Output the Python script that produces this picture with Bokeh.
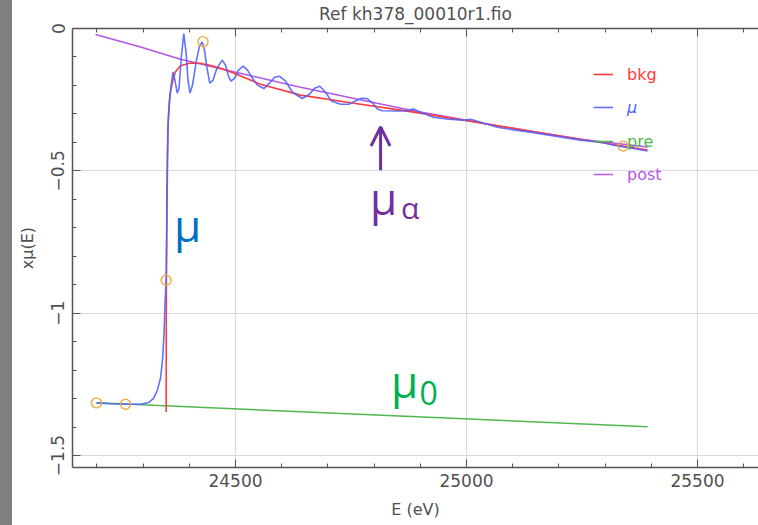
from bokeh.plotting import figure
from bokeh.embed import file_html
from bokeh.resources import INLINE
from bokeh.models import (Range1d, FixedTicker, LinearAxis, Legend, LegendItem,
                          CustomJSTickFormatter, Arrow, OpenHead, Div, CustomLabelingPolicy)
from bokeh.layouts import row
from bokeh.core.properties import value

# ---------------- data ----------------
mu_E = [24199, 24229, 24262, 24294, 24312, 24322.5, 24331, 24337.7, 24342, 24345.2,
        24347.4, 24350, 24351.7, 24352.8, 24354.5, 24357, 24360.8, 24364.7, 24369, 24373.8,
        24377.7, 24383.1, 24388.1, 24392.9, 24397.2, 24401.5, 24406.9, 24415.6, 24422.1, 24427.9,
        24432.9, 24438.3, 24444.4, 24451.3, 24460, 24471.2, 24478.4, 24484.8, 24490.3, 24497.8,
        24506.5, 24516.7, 24526, 24536.8, 24547.6, 24561.3, 24573.6, 24584.4, 24595.9, 24608.2,
        24623.4, 24644.4, 24660.2, 24671, 24682.5, 24694.8, 24707.8, 24727.3, 24745.2, 24759.7,
        24772.7, 24785.1, 24796.5, 24807.4, 24817.5, 24850, 24868, 24885.3, 24900.4, 24928.6,
        24961, 24993.5, 25008.7, 25030.3, 25067.1, 25106, 25138.5, 25192.6, 25246.7, 25290,
        25318.2, 25355, 25391.8]
mu_val = [-1.315, -1.318, -1.320, -1.320, -1.314, -1.299, -1.270, -1.228, -1.165, -1.077,
          -0.971, -0.884, -0.673, -0.463, -0.322, -0.252, -0.199, -0.153, -0.182, -0.227,
          -0.210, -0.094, -0.018, -0.083, -0.182, -0.227, -0.199, -0.111, -0.062, -0.047,
          -0.076, -0.139, -0.192, -0.182, -0.139, -0.111, -0.129, -0.168, -0.185, -0.175,
          -0.146, -0.132, -0.146, -0.175, -0.199, -0.211, -0.192, -0.171, -0.168, -0.185,
          -0.224, -0.246, -0.231, -0.210, -0.203, -0.224, -0.255, -0.266, -0.266, -0.255,
          -0.245, -0.246, -0.262, -0.283, -0.289, -0.290, -0.289, -0.283, -0.294, -0.312,
          -0.319, -0.322, -0.319, -0.329, -0.347, -0.357, -0.364, -0.378, -0.392, -0.399,
          -0.410, -0.420, -0.430]

bkg_E = [24350, 24350.2, 24351.3, 24353.5, 24356.1, 24359.3, 24364.7, 24370.1, 24380.9, 24402.6,
         24424.2, 24445.9, 24467.5, 24495.7, 24554.1, 24640.7, 24748.9, 24878.8, 24993.5, 25138.5,
         25246.7, 25391.8]
bkg_val = [-1.347, -0.954, -0.603, -0.357, -0.275, -0.222, -0.180, -0.152, -0.131, -0.121,
           -0.122, -0.130, -0.140, -0.156, -0.196, -0.234, -0.261, -0.292, -0.322, -0.361,
           -0.389, -0.427]

pre_E = [24199, 25391.8]
pre_val = [-1.315, -1.399]

post_E = [24197, 24294.4, 24381, 24495.7, 24640.7, 24878.8, 25073.6, 25246.7, 25391.8]
post_val = [-0.021, -0.065, -0.108, -0.152, -0.206, -0.287, -0.343, -0.389, -0.416]

marker_E = [24199, 24262, 24350, 24429.7, 25339]
marker_val = [-1.315, -1.320, -0.884, -0.046, -0.413]

x_major = [24500, 25000, 25500]
x_minor = [24200, 24300, 24400, 24600, 24700, 24800, 24900, 25100, 25200, 25300, 25400, 25600]
y_major = [-1.5, -1.0, -0.5, 0.0]
y_minor = [-1.4, -1.3, -1.2, -1.1, -0.9, -0.8, -0.7, -0.6, -0.4, -0.3, -0.2, -0.1]

TITLE = "Ref kh378_00010r1.fio"
XLABEL = "E (eV)"
YLABEL = "xμ(E)"

# ---------------- styling ----------------
BLUE = "#5262ff"
RED = "#ff3b3b"
GREEN = "#4fb84f"
VIOLET = "#b257e6"
ORANGE = "#f2a93b"
AXCOL = "#555555"
TXTCOL = "#505050"
FONT = "DejaVu Sans"

p = figure(width=746, height=525, output_backend="svg", toolbar_location=None,
           x_range=Range1d(24147.2, 25632), y_range=Range1d(-1.542, 0.0),
           min_border_left=60, min_border_right=0, min_border_top=28, min_border_bottom=58,
           x_axis_label=XLABEL, y_axis_label=YLABEL)
p.outline_line_color = None
p.background_fill_color = "white"
p.border_fill_color = "white"

p.title.text = TITLE
p.title.align = "center"
p.title.text_font = FONT
p.title.text_font_size = "17px"
p.title.text_font_style = "normal"
p.title.text_color = TXTCOL
p.title.standoff = 2

xt = FixedTicker(ticks=x_major, minor_ticks=x_minor)
yt = FixedTicker(ticks=y_major, minor_ticks=y_minor)

xaxis = p.xaxis[0]
yaxis = p.yaxis[0]
xaxis.ticker = xt
yaxis.ticker = yt
xaxis.formatter = CustomJSTickFormatter(code="return tick.toFixed(0);")
yaxis.formatter = CustomJSTickFormatter(
    code="if (Math.abs(tick) < 1e-9) {return '0';} return '\u2212' + String(Math.abs(tick));")
yaxis.major_label_orientation = "vertical"

for ax in (xaxis, yaxis):
    ax.axis_line_color = AXCOL
    ax.axis_line_width = 1.5
    ax.major_tick_line_color = AXCOL
    ax.minor_tick_line_color = AXCOL
    ax.major_tick_in = 8
    ax.major_tick_out = 0
    ax.minor_tick_in = 4
    ax.minor_tick_out = 0
    ax.major_label_text_font = FONT
    ax.major_label_text_font_size = "17px"
    ax.major_label_text_color = TXTCOL
    ax.axis_label_text_font = FONT
    ax.axis_label_text_font_size = "16px"
    ax.axis_label_text_font_style = "normal"
    ax.axis_label_text_color = TXTCOL
xaxis.major_label_standoff = 6
xaxis.axis_label_standoff = 10
yaxis.major_label_standoff = 8
yaxis.axis_label_standoff = 12

top = LinearAxis(ticker=FixedTicker(ticks=x_major, minor_ticks=x_minor))
top.axis_line_color = AXCOL
top.axis_line_width = 1.5
top.major_tick_line_color = AXCOL
top.minor_tick_line_color = AXCOL
top.major_tick_in = 8
top.major_tick_out = 0
top.minor_tick_in = 4
top.minor_tick_out = 0
top.major_label_text_font_size = "1px"
top.major_label_standoff = 0
top.major_label_policy = CustomLabelingPolicy(code="""
const n = indices.size;
for (let i = 0; i < n; i++) { indices.unset(i); }
return indices;
""")
p.add_layout(top, "above")

p.xgrid.ticker = xt
p.ygrid.ticker = yt
p.xgrid.grid_line_color = "#dadada"
p.ygrid.grid_line_color = "#dadada"
p.xgrid.grid_line_width = 1.2
p.ygrid.grid_line_width = 1.2

r_post = p.line(post_E, post_val, line_color=VIOLET, line_width=1.5)
r_pre = p.line(pre_E, pre_val, line_color=GREEN, line_width=1.5)
r_bkg = p.line(bkg_E, bkg_val, line_color=RED, line_width=1.6)
r_mu = p.line(mu_E, mu_val, line_color=BLUE, line_width=1.6, line_alpha=0.9)
p.scatter(marker_E, marker_val, marker="circle", size=10, fill_color=None,
          line_color=ORANGE, line_width=1.4)

# legends (one per item so that each label keeps its own colour)
leg_specs = [("bkg", r_bkg, RED, "normal", 378),
             ("μ", r_mu, BLUE, "italic", 345),
             ("pre", r_pre, GREEN, "normal", 311),
             ("post", r_post, VIOLET, "normal", 278)]
for lab, rend, col, sty, yy in leg_specs:
    lg = Legend(items=[LegendItem(label=lab, renderers=[rend])], location=(521, yy),
                padding=0, margin=0, border_line_color=None, background_fill_alpha=0,
                glyph_width=20, glyph_height=20, label_height=30, label_standoff=14,
                label_text_font=FONT, label_text_font_size="16px", label_text_color=col,
                label_text_font_style=sty)
    p.add_layout(lg, "center")

# overlay annotations
ANN_FONT = value("Open Sans")
p.text(x=[24366.7], y=[-0.690], text=["μ"], text_font=ANN_FONT, text_font_size="44px",
       text_color="#0070c0", text_baseline="alphabetic", text_align="left")
p.text(x=[24790.9], y=[-0.596], text=["μ"], text_font=ANN_FONT, text_font_size="44px",
       text_color="#7030a0", text_baseline="alphabetic", text_align="left")
p.text(x=[24858.0], y=[-0.628], text=["α"], text_font=ANN_FONT, text_font_size="30px",
       text_color="#7030a0", text_baseline="alphabetic", text_align="left")
p.text(x=[24836.4], y=[-1.238], text=["μ"], text_font=ANN_FONT, text_font_size="44px",
       text_color="#00b050", text_baseline="alphabetic", text_align="left")
p.text(x=[24898.0], y=[-1.281], text=["0"], text_font=ANN_FONT, text_font_size="32px",
       text_color="#00b050", text_baseline="alphabetic", text_align="left")
p.add_layout(Arrow(end=OpenHead(size=19, line_color="#7030a0", line_width=3),
                   x_start=24814, y_start=-0.498, x_end=24814, y_end=-0.346,
                   line_color="#7030a0", line_width=3))

strip = Div(text="", width=12, height=525,
            styles={"background-color": "#7f7f7f", "margin": "0", "padding": "0"})
layout = row(strip, p, spacing=0)

open("out.html", "w").write(file_html(layout, INLINE))
